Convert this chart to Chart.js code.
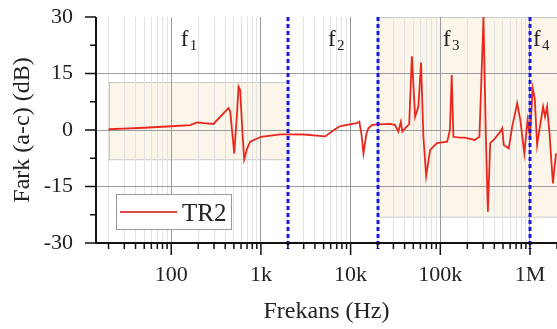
<!DOCTYPE html>
<html>
<head>
<meta charset="utf-8">
<script src="https://cdn.jsdelivr.net/npm/chart.js@4.4.1/dist/chart.umd.min.js"></script>
<style>
  html, body { margin: 0; padding: 0; background: #fff; }
  canvas { display: block; }
</style>
</head>
<body>
<canvas id="chart" width="557" height="329"></canvas>
<script>
// frequency points (Hz) and the TR2 difference (dB)
const freqs = [20, 30, 50, 100, 163, 194, 230, 296, 435, 455, 504, 540, 563, 587, 620, 651, 700, 760, 1000, 1640,
  2000, 3000, 5200, 6700, 7700, 11700, 12500, 13200, 13900, 15000, 15800, 17300, 19600, 27700, 31400, 34000,
  36300, 37700, 42100, 45000, 48200, 52400, 57000, 61000, 64800, 69500, 77000, 91700, 119000, 123000, 128000,
  134000, 140000, 166000, 187000, 241000, 273000, 303000, 322000, 339000, 360000, 393000, 468000, 490000,
  510000, 580000, 633000, 720000, 780000, 864000, 940000, 1000000, 1070000, 1130000, 1200000, 1290000,
  1400000, 1470000, 1550000, 1650000, 1800000, 1950000];
const tr2 = [0.2, 0.35, 0.6, 1.0, 1.3, 2.0, 1.8, 1.6, 5.8, 4.9, -6.2, 4, 11.5, 10.6, 0, -7.8, -5, -3.1, -1.8, -1.15,
  -1.15, -1.2, -1.7, 0.2, 1.06, 1.8, 2.2, -1, -6.2, -1, 0.45, 1.3, 1.5, 1.6, 1.3, -0.45,
  2.2, -0.45, 0.9, 1.5, 19.6, 3.5, 6.2, 17.9, -1.8, -12.2, -5.3, -3.5, -3.1, -1.8, 0,
  14.6, -1.8, -2, -2, -2.65, -1.8, 30, -1.8, -21.7, -3.5, -2.65, -0.45, 0.45,
  -4, -4.9, 0.9, 7.1, 2.65, -6.2, 2.65, -1.8, 11.1, 8.4, -4, 0.9,
  6.2, 3.5, 6.2, -0.9, -14.2, -6.2];

const xMajor = [100, 1000, 10000, 100000, 1000000];
const xLabels = ['100', '1k', '10k', '100k', '1M'];
const yTicks = [-30, -15, 0, 15, 30];
const yMinor = [-22.5, -7.5, 7.5, 22.5];

// band limits (dashed lines) and band names
const bandEdges = [2000, 20000, 1000000];
const bandNames = ['1', '2', '3', '4'];
const bandLabelAt = [128, 5600, 107000, 1080000];

// shaded boxes
const boxFrom = [20, 20000];
const boxTo = [2000, 2000000];
const boxLow = [-7.8, -23];
const boxHigh = [12.7, 30];

const xMinor = [];
[10, 100, 1000, 10000, 100000, 1000000].forEach(d => {
  for (let m = 2; m <= 9; m++) if (d * m >= 14.5 && d * m <= 2000000) xMinor.push(d * m);
});

const serif = "'Liberation Serif', 'DejaVu Serif', serif";

const decor = {
  id: 'decor',
  beforeDraw(chart) {
    const { ctx, scales: { x, y } } = chart;
    ctx.save();
    for (let i = 0; i < boxFrom.length; i++) {
      const l = x.getPixelForValue(boxFrom[i]), r = x.getPixelForValue(boxTo[i]);
      const t = y.getPixelForValue(boxHigh[i]), b = y.getPixelForValue(boxLow[i]);
      ctx.fillStyle = '#fcf6ea';
      ctx.fillRect(l, t, r - l, b - t);
      ctx.strokeStyle = '#c8c8c8';
      ctx.lineWidth = 1;
      ctx.strokeRect(Math.round(l) + 0.5, Math.round(t) + 0.5, r - l, b - t);
    }
    ctx.restore();
  },
  afterDatasetsDraw(chart) {
    const { ctx, chartArea: a, scales: { x } } = chart;
    ctx.save();
    ctx.strokeStyle = '#1a1ae0';
    ctx.lineWidth = 3;
    ctx.setLineDash([4, 3]);
    bandEdges.forEach(f => {
      const px = Math.round(x.getPixelForValue(f));
      ctx.beginPath();
      ctx.moveTo(px, a.top);
      ctx.lineTo(px, a.bottom + 6);
      ctx.stroke();
    });
    ctx.restore();
  },
  afterDraw(chart) {
    const { ctx, chartArea: a, scales: { x, y } } = chart;
    ctx.save();
    ctx.strokeStyle = '#111';
    ctx.lineWidth = 2;
    ctx.beginPath();
    ctx.moveTo(a.left, a.top);
    ctx.lineTo(a.left, a.bottom);
    ctx.lineTo(a.right, a.bottom);
    ctx.stroke();
    ctx.lineWidth = 1.5;
    ctx.beginPath();
    yTicks.forEach(v => { const p = y.getPixelForValue(v); ctx.moveTo(a.left, p); ctx.lineTo(a.left - 11, p); });
    yMinor.forEach(v => { const p = y.getPixelForValue(v); ctx.moveTo(a.left, p); ctx.lineTo(a.left - 6, p); });
    xMajor.forEach(v => { const p = x.getPixelForValue(v); ctx.moveTo(p, a.bottom); ctx.lineTo(p, a.bottom + 12); });
    xMinor.forEach(v => { const p = x.getPixelForValue(v); ctx.moveTo(p, a.bottom); ctx.lineTo(p, a.bottom + 6); });
    ctx.stroke();

    // band names f1..f4
    ctx.fillStyle = '#222';
    ctx.textAlign = 'left';
    ctx.textBaseline = 'alphabetic';
    bandNames.forEach((n, i) => {
      const px = x.getPixelForValue(bandLabelAt[i]);
      ctx.font = '23px ' + serif;
      ctx.fillText('f', px, 46);
      ctx.font = '15px ' + serif;
      ctx.fillText(n, px + 9, 50);
    });

    // legend box
    ctx.fillStyle = '#fff';
    ctx.fillRect(116.5, 194.5, 115, 35);
    ctx.strokeStyle = '#9a9a9a';
    ctx.lineWidth = 1;
    ctx.strokeRect(116.5, 194.5, 115, 35);
    ctx.strokeStyle = '#e04848';
    ctx.lineWidth = 2;
    ctx.beginPath();
    ctx.moveTo(120, 212);
    ctx.lineTo(177, 212);
    ctx.stroke();
    ctx.fillStyle = '#222';
    ctx.font = '25px ' + serif;
    ctx.fillText(chart.data.datasets[0].label, 182, 221);
    ctx.restore();
  }
};

new Chart(document.getElementById('chart'), {
  type: 'line',
  data: {
    datasets: [{
      label: 'TR2',
      data: freqs.map((f, i) => ({ x: f, y: tr2[i] })),
      borderColor: '#e8281e',
      borderWidth: 1.8,
      pointRadius: 0,
      tension: 0
    }]
  },
  options: {
    responsive: false,
    animation: false,
    devicePixelRatio: 1,
    layout: { padding: { top: 17, right: 0, left: 0, bottom: 0 } },
    plugins: { legend: { display: false }, tooltip: { enabled: false } },
    scales: {
      x: {
        type: 'logarithmic',
        min: 14.5,
        max: 2000000,
        afterBuildTicks: s => { s.ticks = xMajor.concat(xMinor).sort((p, q) => p - q).map(v => ({ value: v })); },
        afterFit: s => { s.height = 86; s.paddingLeft = 0; s.paddingRight = 0; },
        border: { display: false },
        grid: {
          drawTicks: false,
          color: c => xMajor.includes(c.tick.value) ? '#9a9a9a' : '#e2e2e2',
          lineWidth: 1
        },
        ticks: {
          autoSkip: false,
          maxRotation: 0,
          padding: 19,
          color: '#222',
          font: { family: serif, size: 22 },
          callback: v => { const i = xMajor.indexOf(v); return i >= 0 ? xLabels[i] : ''; }
        },
        title: {
          display: true,
          text: 'Frekans (Hz)',
          color: '#222',
          font: { family: serif, size: 24 },
          padding: { top: 0, bottom: 3 }
        }
      },
      y: {
        min: -30,
        max: 30,
        afterBuildTicks: s => { s.ticks = yTicks.map(v => ({ value: v })); },
        afterFit: s => { s.width = 96; s.paddingTop = 0; s.paddingBottom = 0; },
        border: { display: false },
        grid: {
          drawTicks: false,
          color: c => Math.abs(c.tick.value) === 30 ? 'rgba(0,0,0,0)' : '#9a9a9a',
          lineWidth: 1
        },
        ticks: {
          padding: 23,
          color: '#222',
          font: { family: serif, size: 22 },
          callback: v => String(v)
        },
        title: {
          display: true,
          text: 'Fark (a-c) (dB)',
          color: '#222',
          font: { family: serif, size: 24 },
          padding: { top: 8, bottom: 0 }
        }
      }
    }
  },
  plugins: [decor]
});
</script>
</body>
</html>
